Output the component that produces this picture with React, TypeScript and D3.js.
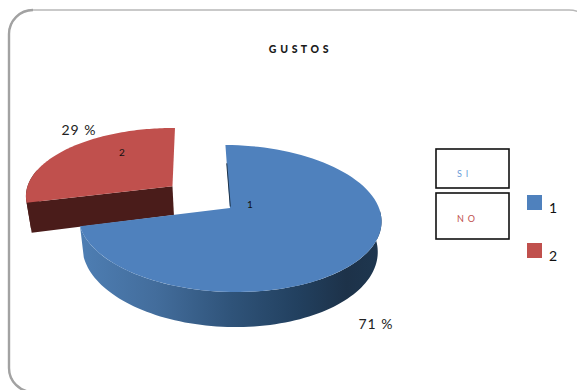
import React from "react";
import * as d3 from "d3";

const width = 577;
const height = 390;

const categories = ["1", "2"];
const shares = [71, 29];
const shareLabels = ["71 %", "29 %"];
const seriesNames = ["S I", "N O"];
const topColors = ["#4f81bd", "#c0504d"];
const nameColors = ["#6a9bd8", "#c0504d"];

// Disc projection: u runs to the right, v towards the viewer, both in radius units.
const cx = 230;
const cy = 208;
const persp = 1 / 7;
const tilt = 0.02;
const xRadius = d3.scaleLinear().domain([-1, 1]).range([-150, 150]);
const yRadius = d3.scaleLinear().domain([-1, 1]).range([-72, 72]);
const wallDepth = 30;

function project(u: number, v: number, drop = 0): [number, number] {
  const w = 1 - persp * v;
  const shrink = drop ? 0.975 : 1;
  const dx = (xRadius(u) / w) * shrink;
  return [cx + dx, cy + yRadius(v) / w + (drop * wallDepth) / w + tilt * dx];
}

const rotation = (-2 * Math.PI) / 180;
const arcs = d3
  .pie<number>()
  .sort(null)
  .startAngle(rotation)
  .endAngle(rotation + 2 * Math.PI)(shares);

function rim(a0: number, a1: number, ou: number, ov: number, drop: number) {
  const n = 90;
  return d3.range(n + 1).map((i) => {
    const t = a0 + ((a1 - a0) * i) / n;
    return project(ou + Math.sin(t), ov - Math.cos(t), drop);
  });
}

const line = d3.line();

// The small slice is pulled away from the centre along its bisector.
const explode = [
  [0, 0],
  [-0.4, -0.3],
];

function topFace(i: number) {
  const [ou, ov] = explode[i];
  const a = arcs[i];
  return (
    line([project(ou, ov), ...rim(a.startAngle, a.endAngle, ou, ov, 0)]) + "Z"
  );
}

function outerWall(i: number, a0: number, a1: number) {
  const [ou, ov] = explode[i];
  return (
    line([
      ...rim(a0, a1, ou, ov, 0),
      ...rim(a0, a1, ou, ov, 1).reverse(),
    ]) + "Z"
  );
}

function cutWall(i: number, angle: number) {
  const [ou, ov] = explode[i];
  const eu = ou + Math.sin(angle);
  const ev = ov - Math.cos(angle);
  return (
    line([
      project(ou, ov),
      project(eu, ev),
      project(eu, ev, 1),
      project(ou, ov, 1),
    ]) + "Z"
  );
}

const fontFamily = "Lato, 'Open Sans', sans-serif";
const swatchY = d3.scalePoint<string>().domain(categories).range([195, 243]);
const boxes = [
  { y: 149, h: 39, ty: 177 },
  { y: 193, h: 46, ty: 222 },
];

export default function App() {
  const blue = arcs[0];
  const red = arcs[1];
  const blueEdge = [
    project(0.002, -0.02),
    project(Math.sin(rotation) * 0.68, -Math.cos(rotation) * 0.68),
  ] as [number, number][];
  return (
    <svg
      width={width}
      height={height}
      viewBox={`0 0 ${width} ${height}`}
      style={{ position: "fixed", left: 0, top: 0, background: "#fff" }}
    >
      <defs>
        <linearGradient id="wallShade" gradientUnits="userSpaceOnUse" x1={80} x2={383} y1={0} y2={0}>
          <stop offset="0" stopColor="#4e7eb3" />
          <stop offset="0.25" stopColor="#436d9c" />
          <stop offset="0.5" stopColor="#2f5379" />
          <stop offset="0.72" stopColor="#22405f" />
          <stop offset="0.88" stopColor="#1d3249" />
          <stop offset="1" stopColor="#1e3750" />
        </linearGradient>
      </defs>

      {/* Chart frame with rounded corners; the left side carries a heavier edge */}
      <rect x={9} y={10} width={584} height={382} rx={24} ry={24} fill="#fff" stroke="#b8b8b8" strokeWidth={1.4} />
      <path d="M33,10 A24,24 0 0 0 9,34 V368 A24,24 0 0 0 33,392" fill="none" stroke="#a2a2a2" strokeWidth={2.4} />

      <text x={299} y={53} fontFamily={fontFamily} fontSize={10.5} fontWeight={900} fill="#1a1a1a" textAnchor="middle" letterSpacing={0.6}>
        G U S T O S
      </text>

      {/* Exploded slice: only the part of the rim wall near the leading edge shows */}
      <path d={outerWall(1, red.startAngle, red.startAngle + 0.5)} fill="#4a1c1a" />
      <path d={cutWall(1, red.startAngle)} fill="#4a1c1a" />
      <path d={topFace(1)} fill={topColors[1]} />

      {/* Main slice */}
      <path d={outerWall(0, Math.PI / 2, blue.endAngle)} fill="url(#wallShade)" />
      <path d={topFace(0)} fill={topColors[0]} />
      <path d={line(blueEdge) ?? ""} stroke="#1d3349" strokeWidth={1} fill="none" />

      <text x={250} y={208} fontFamily={fontFamily} fontSize={10} fill="#111" textAnchor="middle">{categories[0]}</text>
      <text x={122} y={156} fontFamily={fontFamily} fontSize={10} fill="#111" textAnchor="middle">{categories[1]}</text>
      <text x={376} y={329} fontFamily={fontFamily} fontSize={14} fill="#222" textAnchor="middle" letterSpacing={1}>{shareLabels[0]}</text>
      <text x={79} y={135} fontFamily={fontFamily} fontSize={14} fill="#222" textAnchor="middle" letterSpacing={1}>{shareLabels[1]}</text>

      {/* Series name boxes */}
      {boxes.map((b, i) => (
        <g key={seriesNames[i]}>
          <rect x={436} y={b.y} width={73} height={b.h} fill="#fff" stroke="#111" strokeWidth={1.6} />
          <text x={457} y={b.ty} fontFamily={fontFamily} fontSize={9} fill={nameColors[i]} letterSpacing={0.8}>
            {seriesNames[i]}
          </text>
        </g>
      ))}

      {/* Legend */}
      {categories.map((c, i) => (
        <g key={c}>
          <rect x={527} y={swatchY(c)} width={15} height={15} fill={topColors[i]} />
          <text x={553} y={(swatchY(c) ?? 0) + 18} fontFamily={fontFamily} fontSize={14} fill="#111" textAnchor="middle">
            {c}
          </text>
        </g>
      ))}
    </svg>
  );
}
